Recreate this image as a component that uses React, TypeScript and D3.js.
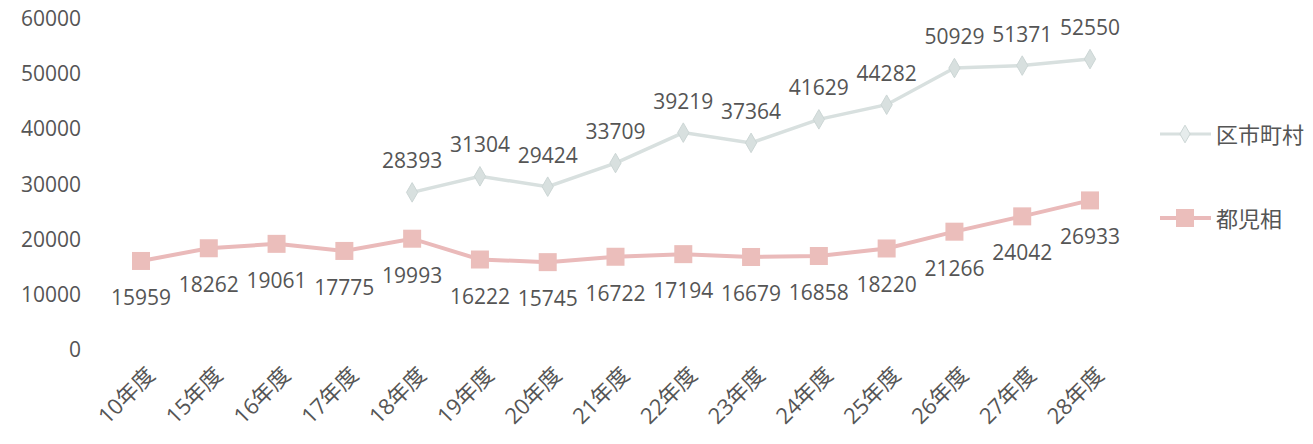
import React, { useEffect, useRef } from 'react';
import * as d3 from 'd3';

const categories = ['10年度', '15年度', '16年度', '17年度', '18年度', '19年度', '20年度', '21年度', '22年度', '23年度', '24年度', '25年度', '26年度', '27年度', '28年度'];
const kushichoson: (number | null)[] = [null, null, null, null, 28393, 31304, 29424, 33709, 39219, 37364, 41629, 44282, 50929, 51371, 52550];
const tojiso = [15959, 18262, 19061, 17775, 19993, 16222, 15745, 16722, 17194, 16679, 16858, 18220, 21266, 24042, 26933];
const yTicks = [0, 10000, 20000, 30000, 40000, 50000, 60000];
const seriesNames = ['区市町村', '都児相'];

const FONT = "'Open Sans', 'Noto Sans CJK JP', sans-serif";
const TEXT = '#555';
const GREY = '#d8e0df';
const PINK = '#eababa';

export default function App() {
    const ref = useRef<SVGSVGElement>(null);

    useEffect(() => {
        const svg = d3.select(ref.current);
        svg.selectAll('*').remove();

        const x = d3.scalePoint<string>().domain(categories).range([141, 1090]);
        const y = d3.scaleLinear().domain([0, 60000]).range([349, 18]);

        // y axis labels
        svg.append('g').selectAll('text').data(yTicks).join('text')
            .attr('x', 81).attr('y', d => y(d))
            .attr('text-anchor', 'end').attr('dominant-baseline', 'central')
            .attr('font-family', FONT).attr('font-size', 21).attr('fill', TEXT)
            .text(d => d);

        // x axis labels
        svg.append('g').selectAll('text').data(categories).join('text')
            .attr('transform', d => `translate(${x(d)! + 9},${370}) rotate(-45)`)
            .attr('text-anchor', 'end').attr('dominant-baseline', 'central')
            .attr('font-family', FONT).attr('font-size', 22).attr('fill', TEXT)
            .text(d => d);

        const line = d3.line<number | null>()
            .defined(d => d != null)
            .x((_, i) => x(categories[i])!)
            .y(d => y(d as number));

        // 区市町村
        svg.append('path').datum(kushichoson)
            .attr('fill', 'none').attr('stroke', GREY).attr('stroke-width', 3.5)
            .attr('d', line);
        const kPts = kushichoson.map((v, i) => ({ v, c: categories[i] })).filter(d => d.v != null) as { v: number; c: string }[];
        svg.append('g').selectAll('path').data(kPts).join('path')
            .attr('d', d3.symbol(d3.symbolDiamond, 110)())
            .attr('transform', d => `translate(${x(d.c)},${y(d.v)})`)
            .attr('fill', GREY).attr('stroke', '#ccd6d5').attr('stroke-width', 1);
        svg.append('g').selectAll('text').data(kPts).join('text')
            .attr('x', d => x(d.c)!).attr('y', d => y(d.v) - 32)
            .attr('text-anchor', 'middle').attr('dominant-baseline', 'central')
            .attr('font-family', FONT).attr('font-size', 21).attr('fill', TEXT)
            .text(d => d.v);

        // 都児相
        svg.append('path').datum(tojiso)
            .attr('fill', 'none').attr('stroke', PINK).attr('stroke-width', 4)
            .attr('d', line);
        svg.append('g').selectAll('rect').data(tojiso).join('rect')
            .attr('x', (_, i) => x(categories[i])! - 9).attr('y', d => y(d) - 9)
            .attr('width', 18).attr('height', 18)
            .attr('fill', '#ebbebb');
        svg.append('g').selectAll('text').data(tojiso).join('text')
            .attr('x', (_, i) => x(categories[i])!).attr('y', d => y(d) + 36)
            .attr('text-anchor', 'middle').attr('dominant-baseline', 'central')
            .attr('font-family', FONT).attr('font-size', 21).attr('fill', TEXT)
            .text(d => d);

        // legend
        const legend = svg.append('g');
        const ly = [134, 218];
        seriesNames.forEach((name, i) => {
            const g = legend.append('g').attr('transform', `translate(0,${ly[i]})`);
            g.append('line').attr('x1', 1160).attr('x2', 1211).attr('y1', 0).attr('y2', 0)
                .attr('stroke', i === 0 ? GREY : PINK).attr('stroke-width', i === 0 ? 3 : 4);
            if (i === 0) {
                g.append('path').attr('d', d3.symbol(d3.symbolDiamond, 90)())
                    .attr('transform', 'translate(1185,0)')
                    .attr('fill', '#e6ecec').attr('stroke', '#ccd6d5');
            } else {
                g.append('rect').attr('x', 1176).attr('y', -9).attr('width', 18).attr('height', 18)
                    .attr('fill', '#ebbebb');
            }
            g.append('text').attr('x', 1216).attr('y', 0)
                .attr('dominant-baseline', 'central')
                .attr('font-family', FONT).attr('font-size', 22).attr('fill', TEXT)
                .text(name);
        });
    }, []);

    return (
        <svg ref={ref} width={1313} height={444}
            style={{ position: 'absolute', left: 0, top: 0, background: '#fff' }} />
    );
}
